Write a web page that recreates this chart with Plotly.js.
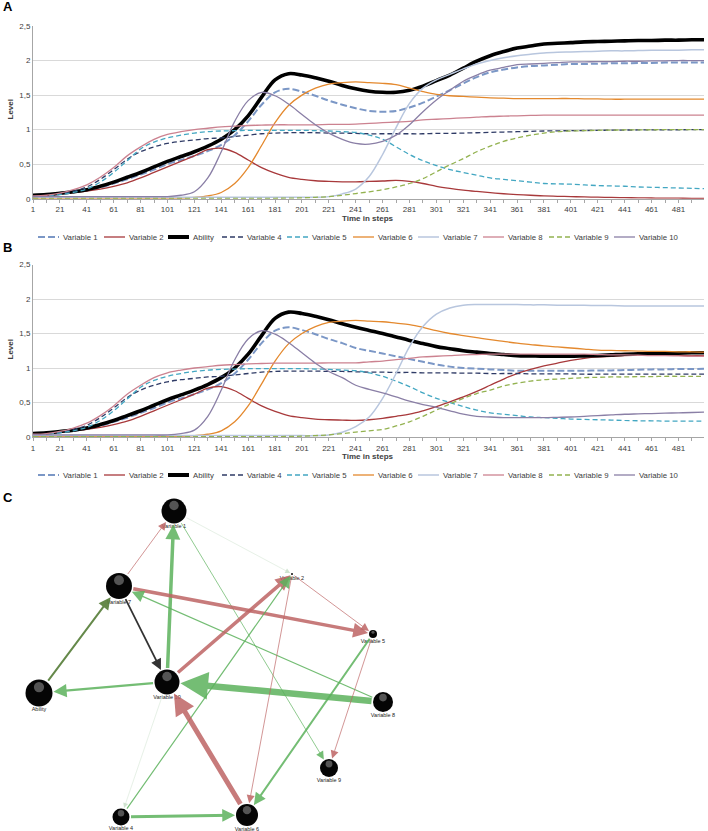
<!DOCTYPE html>
<html><head><meta charset="utf-8">
<script src="https://cdn.plot.ly/plotly-3.0.1.min.js"></script>
<style>html,body{margin:0;padding:0;background:#fff}#chart{width:708px;height:831px}</style>
</head><body><div id="chart"></div>
<script>
// ---------- DATA: time courses (values read at every 10th step) ----------
const steps = [1,11,21,31,41,51,61,71,81,91,101,111,121,131,141,151,161,171,181,191,201,211,221,231,241,251,261,271,281,291,301,311,321,331,341,351,361,371,381,391,401,411,421,431,441,451,461,471,481,491,500];
const tickSteps = [1,21,41,61,81,101,121,141,161,181,201,221,241,261,281,301,321,341,361,381,401,421,441,461,481];
const levelTicks = [0,0.5,1,1.5,2,2.5];
const levelTickText = ['0','0,5','1','1,5','2','2,5'];
const seriesNames = ['Variable 1','Variable 2','Ability','Variable 4','Variable 5','Variable 6','Variable 7','Variable 8','Variable 9','Variable 10'];

// Panel A
const variable1A = [0.03,0.05,0.07,0.09,0.12,0.16,0.22,0.28,0.35,0.42,0.50,0.56,0.62,0.69,0.78,0.92,1.12,1.36,1.54,1.59,1.55,1.49,1.42,1.36,
  1.31,1.27,1.26,1.27,1.32,1.39,1.48,1.57,1.67,1.76,1.83,1.87,1.90,1.92,1.93,1.94,1.95,1.95,1.955,1.96,1.96,1.965,1.965,1.97,1.97,1.97,1.97];
const variable2A = [0.04,0.05,0.07,0.09,0.11,0.14,0.18,0.23,0.30,0.38,0.46,0.54,0.62,0.71,0.73,0.67,0.56,0.45,0.37,0.31,0.28,0.26,0.25,0.245,
  0.245,0.25,0.256,0.265,0.25,0.22,0.18,0.15,0.125,0.105,0.087,0.072,0.06,0.05,0.04,0.035,0.03,0.025,0.022,0.018,0.015,0.012,0.01,0.008,0.007,0.006,0.005];
const abilityA = [0.05,0.06,0.08,0.10,0.13,0.18,0.24,0.31,0.38,0.46,0.54,0.61,0.68,0.76,0.86,1.00,1.20,1.47,1.72,1.81,1.79,1.75,1.70,1.64,
  1.59,1.555,1.54,1.54,1.57,1.63,1.71,1.79,1.89,1.99,2.07,2.13,2.18,2.21,2.24,2.25,2.26,2.27,2.275,2.28,2.285,2.29,2.29,2.295,2.295,2.30,2.30];
const variable4A = [0.03,0.04,0.07,0.11,0.17,0.28,0.42,0.57,0.68,0.75,0.80,0.83,0.85,0.87,0.88,0.90,0.92,0.94,0.95,0.955,0.955,0.955,0.95,0.95,
  0.945,0.94,0.94,0.94,0.94,0.94,0.945,0.945,0.95,0.955,0.96,0.965,0.97,0.975,0.98,0.982,0.985,0.987,0.99,0.992,0.994,0.995,0.996,0.997,0.998,0.999,1.0];
const variable5A = [0.02,0.04,0.06,0.09,0.14,0.24,0.38,0.55,0.72,0.82,0.88,0.92,0.95,0.97,0.98,0.985,0.99,0.99,0.99,0.99,0.99,0.985,0.98,0.97,
  0.96,0.92,0.86,0.75,0.64,0.55,0.48,0.42,0.38,0.34,0.30,0.28,0.26,0.24,0.22,0.215,0.21,0.20,0.19,0.185,0.18,0.17,0.165,0.16,0.155,0.15,0.145];
const variable6A = [0.01,0.01,0.01,0.01,0.01,0.01,0.01,0.01,0.01,0.01,0.01,0.01,0.02,0.04,0.09,0.22,0.45,0.77,1.10,1.35,1.50,1.60,1.66,1.68,
  1.69,1.68,1.67,1.65,1.60,1.55,1.51,1.49,1.48,1.47,1.46,1.455,1.45,1.45,1.45,1.45,1.45,1.445,1.445,1.44,1.44,1.44,1.44,1.44,1.44,1.44,1.44];
const variable7A = [0.03,0.02,0.02,0.02,0.02,0.02,0.02,0.02,0.02,0.02,0.02,0.02,0.02,0.02,0.02,0.02,0.02,0.02,0.02,0.02,0.02,0.02,0.03,0.07,
  0.14,0.32,0.64,1.03,1.38,1.60,1.72,1.80,1.88,1.95,2.00,2.04,2.07,2.09,2.11,2.12,2.125,2.13,2.135,2.14,2.14,2.145,2.15,2.15,2.15,2.155,2.155];
const variable8A = [0.04,0.05,0.08,0.13,0.20,0.31,0.45,0.62,0.75,0.86,0.93,0.97,1.00,1.02,1.04,1.05,1.06,1.065,1.07,1.07,1.07,1.07,1.075,1.075,
  1.08,1.09,1.10,1.11,1.12,1.14,1.15,1.16,1.17,1.18,1.19,1.195,1.20,1.205,1.21,1.21,1.21,1.21,1.21,1.21,1.21,1.21,1.21,1.21,1.21,1.21,1.21];
const variable9A = [0.005,0.005,0.005,0.005,0.005,0.005,0.005,0.005,0.005,0.005,0.005,0.005,0.005,0.005,0.005,0.005,0.005,0.005,0.006,0.008,0.012,0.02,0.03,0.05,
  0.075,0.10,0.13,0.17,0.22,0.29,0.39,0.49,0.58,0.68,0.76,0.83,0.88,0.92,0.95,0.97,0.98,0.985,0.99,0.993,0.995,0.997,0.998,0.999,1.0,1.0,1.0];
const variable10A = [0.03,0.03,0.03,0.03,0.03,0.03,0.03,0.03,0.03,0.03,0.03,0.05,0.10,0.30,0.68,1.12,1.42,1.54,1.49,1.37,1.22,1.07,0.95,0.86,
  0.80,0.79,0.83,0.92,1.07,1.26,1.43,1.57,1.70,1.79,1.86,1.90,1.94,1.95,1.96,1.97,1.98,1.98,1.985,1.985,1.99,1.99,1.995,1.995,2.0,2.0,2.0];

// Panel B (identical to A up to step 231, values from step 241 on)
const variable1B = variable1A.slice(0,24).concat([1.29,1.25,1.21,1.17,1.13,1.09,1.05,1.02,1.00,0.99,0.98,0.97,0.96,0.96,0.96,0.96,0.96,0.96,0.965,0.965,0.97,0.975,0.98,0.98,0.985,0.985,0.99]);
const variable2B = variable2A.slice(0,24).concat([0.24,0.25,0.27,0.30,0.33,0.38,0.44,0.51,0.58,0.66,0.75,0.84,0.92,0.98,1.03,1.07,1.11,1.14,1.16,1.17,1.18,1.185,1.19,1.19,1.185,1.18,1.18]);
const abilityB = abilityA.slice(0,24).concat([1.59,1.545,1.50,1.45,1.40,1.355,1.31,1.28,1.25,1.23,1.21,1.195,1.18,1.175,1.17,1.17,1.17,1.175,1.18,1.19,1.20,1.205,1.21,1.21,1.215,1.22,1.22]);
const variable4B = variable4A.slice(0,24).concat([0.945,0.94,0.94,0.935,0.935,0.93,0.93,0.93,0.925,0.925,0.92,0.92,0.92,0.915,0.915,0.915,0.915,0.91,0.91,0.91,0.91,0.91,0.91,0.91,0.91,0.91,0.91]);
const variable5B = variable5A.slice(0,24).concat([0.96,0.93,0.88,0.81,0.73,0.64,0.56,0.50,0.44,0.39,0.35,0.33,0.31,0.29,0.28,0.27,0.26,0.255,0.25,0.245,0.24,0.235,0.235,0.23,0.23,0.23,0.23]);
const variable6B = variable6A.slice(0,24).concat([1.69,1.68,1.67,1.65,1.63,1.59,1.54,1.50,1.47,1.44,1.41,1.385,1.36,1.34,1.32,1.305,1.29,1.275,1.26,1.255,1.25,1.245,1.24,1.24,1.235,1.235,1.23]);
const variable7B = variable7A.slice(0,24).concat([0.15,0.29,0.56,0.92,1.31,1.60,1.78,1.87,1.91,1.92,1.92,1.92,1.92,1.915,1.915,1.91,1.91,1.91,1.905,1.905,1.90,1.90,1.90,1.90,1.90,1.90,1.90]);
const variable8B = variable8A.slice(0,24).concat([1.075,1.09,1.10,1.12,1.14,1.16,1.17,1.18,1.19,1.195,1.20,1.20,1.20,1.20,1.20,1.20,1.20,1.20,1.195,1.19,1.19,1.185,1.18,1.18,1.175,1.17,1.17]);
const variable9B = variable9A.slice(0,24).concat([0.07,0.09,0.11,0.16,0.22,0.30,0.39,0.48,0.56,0.63,0.68,0.74,0.78,0.81,0.83,0.84,0.85,0.86,0.865,0.87,0.87,0.875,0.875,0.88,0.88,0.88,0.88]);
const variable10B = variable10A.slice(0,24).concat([0.75,0.69,0.64,0.58,0.52,0.47,0.43,0.38,0.33,0.30,0.29,0.28,0.28,0.28,0.28,0.285,0.29,0.30,0.31,0.32,0.33,0.335,0.34,0.345,0.35,0.355,0.36]);

// ---------- DATA: network (panel C) ----------
const nodeNames = ['Variable 1','Variable 2','Ability','Variable 4','Variable 5','Variable 6','Variable 7','Variable 8','Variable 9','Variable 10'];
const nodeX = [174, 292, 39, 121, 373, 247, 119, 383, 329, 167];
const nodeY = [511, 574, 693, 817, 634, 815, 586, 702, 768, 682];
const nodeSize = [25, 2, 27, 17, 8, 22, 26, 20, 18, 25];
const edgeFrom = ['Variable 10','Variable 7','Variable 1','Variable 1','Variable 7','Variable 8','Ability','Variable 7','Variable 10','Variable 8','Variable 10','Variable 4','Variable 2','Variable 2','Variable 5','Variable 5','Variable 6','Variable 4','Variable 10'];
const edgeTo   = ['Variable 1','Variable 1','Variable 2','Variable 9','Variable 5','Variable 7','Variable 7','Variable 10','Ability','Variable 10','Variable 2','Variable 2','Variable 6','Variable 5','Variable 9','Variable 6','Variable 10','Variable 6','Variable 4'];
const edgeWeight = [3.5, 0.8, 0.5, 0.8, 3.5, 1.2, 2.0, 1.8, 2.2, 6.5, 3.5, 1.2, 0.8, 0.8, 0.8, 2.0, 5.0, 3.0, 0.5];
const edgeSign = ['pos','neg','faint','pos','neg','pos','mixed','neutral','pos','pos','neg','pos','neg','neg','neg','pos','neg','pos','faint'];

// ---------- STYLE ----------
const seriesStyle = [
  {color:'#7b97c6', width:2.0, dash:'7px,3px'},
  {color:'#a8393b', width:1.3, dash:'solid'},
  {color:'#000000', width:3.6, dash:'solid'},
  {color:'#2f3b66', width:1.3, dash:'5px,3px'},
  {color:'#43a7c2', width:1.3, dash:'5px,3px'},
  {color:'#e4892e', width:1.3, dash:'solid'},
  {color:'#b8c6de', width:1.5, dash:'solid'},
  {color:'#cc8290', width:1.3, dash:'solid'},
  {color:'#93b250', width:1.3, dash:'5px,3px'},
  {color:'#8a7fa6', width:1.3, dash:'solid'}
];
const edgeColors = {pos:'rgba(92,178,92,0.85)', neg:'rgba(190,100,100,0.85)', faint:'rgba(160,200,160,0.5)', mixed:'rgba(85,125,55,0.9)', neutral:'#333333'};
const W = 708, H = 831;
const px = v => v / W, py = v => 1 - v / H;
const FONT = 'Liberation Sans, Arial, sans-serif';

const seriesA = [variable1A, variable2A, abilityA, variable4A, variable5A, variable6A, variable7A, variable8A, variable9A, variable10A];
const seriesB = [variable1B, variable2B, abilityB, variable4B, variable5B, variable6B, variable7B, variable8B, variable9B, variable10B];

const traces = [];
[[seriesA,'x','y'],[seriesB,'x2','y2']].forEach(([set, xa, ya]) => {
  set.forEach((vals, i) => {
    traces.push({
      type:'scatter', mode:'lines', name: seriesNames[i], x: steps, y: vals,
      xaxis: xa, yaxis: ya, showlegend:false,
      line:{color: seriesStyle[i].color, width: seriesStyle[i].width, dash: seriesStyle[i].dash, shape:'spline', smoothing:1}
    });
  });
});

// network nodes (black spheres with a small highlight)
const idx = name => nodeNames.indexOf(name);
traces.push({
  type:'scatter', mode:'markers', x: nodeX, y: nodeY, xaxis:'x3', yaxis:'y3', showlegend:false,
  text: nodeNames, hoverinfo:'text', cliponaxis:false, opacity:1,
  marker:{size: nodeSize, color:'#050505', opacity:1, line:{width:0}}
});
traces.push({
  type:'scatter', mode:'markers', x: nodeX, y: nodeY.map((v,i)=> v - nodeSize[i]*0.22), xaxis:'x3', yaxis:'y3', showlegend:false,
  hoverinfo:'skip', cliponaxis:false, opacity:1,
  marker:{size: nodeSize.map(s => s*0.38), color:'rgba(150,150,150,0.55)', opacity:1, line:{width:0}}
});
traces.push({
  type:'scatter', mode:'text', x: nodeX, y: nodeY.map((v,i)=> v + nodeSize[i]/2 + 3.5), xaxis:'x3', yaxis:'y3', showlegend:false,
  text: nodeNames, hoverinfo:'skip', cliponaxis:false,
  textfont:{size:5.5, color:'#222', family: FONT}
});

// axes
const xBase = {
  range:[1,500], tickmode:'array', tickvals: tickSteps, ticktext: tickSteps.map(String),
  ticks:'outside', ticklen:3, tickcolor:'#a6a6a6', showline:true, linecolor:'#a6a6a6', linewidth:1,
  showgrid:false, zeroline:false, tickfont:{size:8, color:'#404040', family: FONT},
  minor:{dtick:10, tick0:1, ticks:'outside', ticklen:3, tickcolor:'#a6a6a6', showgrid:false},
  fixedrange:true
};
const yBase = {
  range:[0,2.5], tickmode:'array', tickvals: levelTicks, ticktext: levelTickText,
  showgrid:true, gridcolor:'#d9d9d9', gridwidth:1, showline:true, linecolor:'#a6a6a6', zeroline:false,
  ticks:'', tickfont:{size:8, color:'#404040', family: FONT}, fixedrange:true
};

const shapes = [];
const annotations = [];
const legendX = [38,104,168,222,287,353,418,483,549,614];
[237, 475].forEach(ly => {
  seriesNames.forEach((n, i) => {
    shapes.push({type:'line', xref:'paper', yref:'paper', x0: px(legendX[i]), x1: px(legendX[i]+21), y0: py(ly), y1: py(ly),
      line:{color: seriesStyle[i].color, width: i===2 ? 4 : seriesStyle[i].width, dash: seriesStyle[i].dash}});
    annotations.push({xref:'paper', yref:'paper', x: px(legendX[i]+23), y: py(ly), xanchor:'left', yanchor:'middle',
      text: n, showarrow:false, font:{size:7.8, color:'#404040', family: FONT}});
  });
});

// axis titles and panel letters
[[110, 218.5],[350, 456.5]].forEach(([ly, ty]) => {
  annotations.push({xref:'paper', yref:'paper', x: px(9.5), y: py(ly), text:'<b>Level</b>', textangle:-90, showarrow:false,
    xanchor:'center', yanchor:'middle', font:{size:8, color:'#404040', family: FONT}});
  annotations.push({xref:'paper', yref:'paper', x: px(368), y: py(ty), text:'<b>Time in steps</b>', showarrow:false,
    xanchor:'center', yanchor:'middle', font:{size:8, color:'#404040', family: FONT}});
});
[['A',7],['B',247],['C',497]].forEach(([t, y]) => {
  annotations.push({xref:'paper', yref:'paper', x: px(1), y: py(y), text:'<b>'+t+'</b>', showarrow:false,
    xanchor:'left', yanchor:'middle', font:{size:13, color:'#000', family: FONT}});
});

// network edges as arrows
edgeFrom.forEach((f, k) => {
  const a = idx(f), b = idx(edgeTo[k]);
  const w = edgeWeight[k];
  annotations.push({
    xref:'x3', yref:'y3', axref:'x3', ayref:'y3',
    x: nodeX[b], y: nodeY[b], ax: nodeX[a], ay: nodeY[a],
    text:'', showarrow:true, arrowhead:2, arrowsize: w < 1.5 ? 2.0 : (w < 3 ? 1.2 : 0.85), arrowwidth: w,
    arrowcolor: edgeColors[edgeSign[k]], standoff: nodeSize[b]/2 + 1, startstandoff: nodeSize[a]/2
  });
});

const layout = {
  width: W, height: H, margin:{l:0, r:0, t:0, b:0}, paper_bgcolor:'#ffffff', plot_bgcolor:'rgba(0,0,0,0)',
  showlegend:false, font:{family: FONT, color:'#404040'},
  xaxis: Object.assign({}, xBase, {domain:[px(33), px(704)], anchor:'y'}),
  yaxis: Object.assign({}, yBase, {domain:[py(198.7), py(26)], anchor:'x'}),
  xaxis2: Object.assign({}, xBase, {domain:[px(33), px(704)], anchor:'y2'}),
  yaxis2: Object.assign({}, yBase, {domain:[py(437), py(264.5)], anchor:'x2'}),
  xaxis3: {domain:[0,1], range:[0,W], visible:false, fixedrange:true, anchor:'y3'},
  yaxis3: {domain:[0, py(500)], range:[H,500], visible:false, fixedrange:true, anchor:'x3'},
  shapes: shapes, annotations: annotations
};

Plotly.newPlot('chart', traces, layout, {staticPlot:true, displayModeBar:false});
</script>
</body></html>
